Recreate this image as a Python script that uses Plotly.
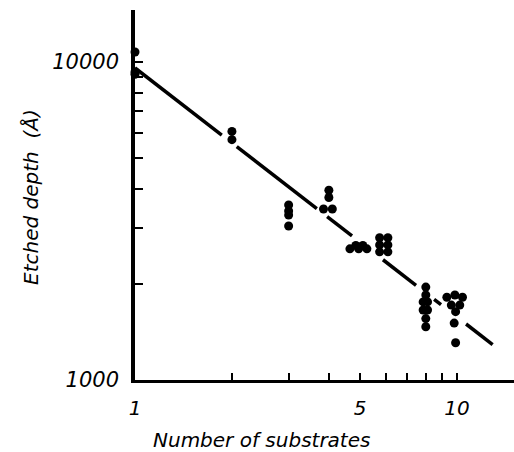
import plotly.graph_objects as go

# measured points (number of substrates, etched depth in Angstrom)
x_pts = [1, 1, 1,
         2, 2,
         3, 3, 3, 3,
         4, 4, 3.85, 4.1,
         4.65, 4.85, 5.1, 5.25, 4.95,
         5.75, 6.1, 5.75, 6.1, 5.75, 6.1,
         8, 8, 7.85, 8.1, 7.85, 8.1, 8, 8,
         9.3, 9.85, 10.4, 9.6, 10.2, 9.9, 9.8, 9.9]
y_pts = [10750, 9300, 9150,
         6050, 5700,
         3550, 3400, 3300, 3050,
         3950, 3750, 3450, 3450,
         2585, 2650, 2650, 2585, 2585,
         2800, 2800, 2660, 2660, 2530, 2530,
         1960, 1850, 1760, 1760, 1660, 1660, 1560, 1470,
         1820, 1850, 1820, 1720, 1720, 1640, 1510, 1310]

# fitted power law depth = A * n**B, drawn in broken segments
fit_A = 9575
fit_B = -0.783
seg_start = [1.0, 2.07, 3.95, 5.89, 8.49, 10.67]
seg_end = [1.86, 3.67, 4.72, 7.46, 8.92, 12.9]

x_ticks = [1, 2, 3, 4, 5, 6, 7, 8, 9, 10]
x_ticktext = ["1", "", "", "", "5", "", "", "", "", "10"]
y_ticks = [1000, 2000, 3000, 4000, 5000, 6000, 7000, 8000, 9000, 10000]
y_ticktext = ["1000", "", "", "", "", "", "", "", "", "10000"]

lx, ly = [], []
for s, e in zip(seg_start, seg_end):
    lx += [s, e, None]
    ly += [fit_A * s ** fit_B, fit_A * e ** fit_B, None]

fig = go.Figure()
fig.add_trace(go.Scatter(x=lx, y=ly, mode="lines",
                         line=dict(color="black", width=3.5),
                         connectgaps=False, showlegend=False))
fig.add_trace(go.Scatter(x=x_pts, y=y_pts, mode="markers",
                         marker=dict(color="black", size=9),
                         cliponaxis=False, showlegend=False))

font_fam = "DejaVu Sans"
fig.update_layout(
    width=514, height=452,
    margin=dict(l=135, r=0, t=10, b=72),
    plot_bgcolor="white", paper_bgcolor="white",
    xaxis=dict(type="log", range=[0, 1.177], showgrid=False, zeroline=False,
               showline=True, linecolor="black", linewidth=3, layer="below traces",
               ticks="inside", ticklen=7, tickwidth=2, tickcolor="black",
               tickvals=x_ticks, ticktext=x_ticktext,
               tickfont=dict(family=font_fam, size=20, color="black", style="italic"),
               ticklabelstandoff=8),
    yaxis=dict(type="log", range=[3, 4.1635], showgrid=False, zeroline=False,
               showline=True, linecolor="black", linewidth=3.5, layer="below traces",
               ticks="inside", ticklen=8, tickwidth=2, tickcolor="black",
               tickvals=y_ticks, ticktext=y_ticktext,
               tickfont=dict(family=font_fam, size=21, color="black", style="italic"),
               ticklabelstandoff=8),
    annotations=[
        dict(text="Number of substrates", x=261, y=452 - 440, xref="paper", yref="paper",
             showarrow=False, font=dict(family=font_fam, size=20, color="black", style="italic")),
        dict(text="Etched depth  (Å)", x=31, y=452 - 197, textangle=-90,
             showarrow=False, font=dict(family=font_fam, size=20, color="black", style="italic")),
    ],
)
# convert annotation pixel positions to paper coords
pw, ph = 514 - 135, 452 - 82
for a in fig.layout.annotations:
    a.xref = "paper"
    a.yref = "paper"
    a.x = (a.x - 135) / pw
    a.y = (a.y - 72) / ph
    a.xanchor = "center"
    a.yanchor = "middle"

fig.write_html("out.html")
